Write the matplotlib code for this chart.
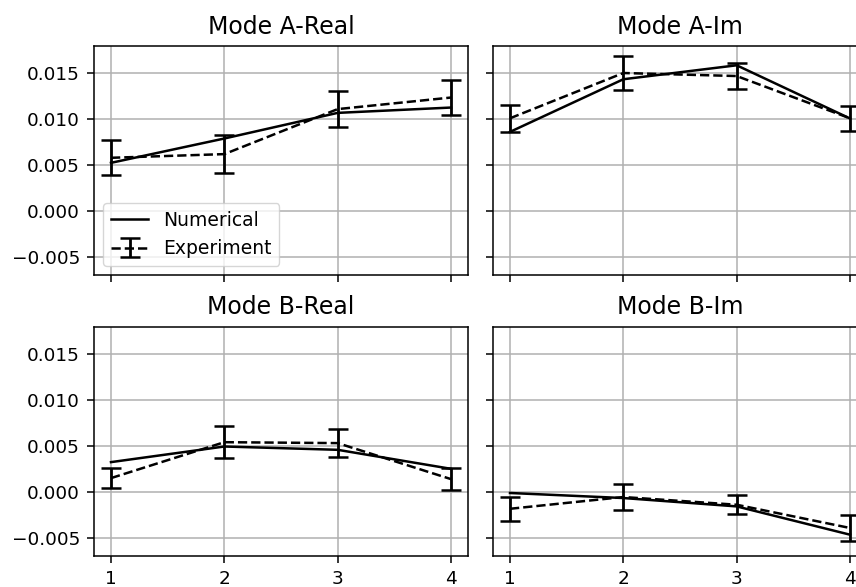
import matplotlib
matplotlib.use("Agg")
import matplotlib.pyplot as plt
import numpy as np

x = [1, 2, 3, 4]
titles = ["Mode A-Real", "Mode A-Im", "Mode B-Real", "Mode B-Im"]

# numerical results
num_a_real = [0.00525, 0.0079, 0.01069, 0.01127]
num_a_im = [0.00862, 0.01435, 0.01587, 0.01008]
num_b_real = [0.00326, 0.00496, 0.0046, 0.00253]
num_b_im = [-0.0001, -0.00065, -0.00156, -0.00464]

# experiment mean and error
exp_a_real = [0.0058, 0.0062, 0.0111, 0.01236]
err_a_real = [0.0019, 0.0021, 0.00195, 0.00195]
exp_a_im = [0.0101, 0.01503, 0.0147, 0.0101]
err_a_im = [0.00145, 0.0018, 0.00145, 0.00138]
exp_b_real = [0.00152, 0.00543, 0.00533, 0.00141]
err_b_real = [0.00105, 0.00174, 0.00155, 0.00123]
exp_b_im = [-0.00182, -0.00054, -0.00138, -0.00391]
err_b_im = [0.0013, 0.00145, 0.00105, 0.00145]

numerical = [num_a_real, num_a_im, num_b_real, num_b_im]
experiment = [exp_a_real, exp_a_im, exp_b_real, exp_b_im]
errors = [err_a_real, err_a_im, err_b_real, err_b_im]

plt.rcParams['axes.linewidth'] = 1.1

fig, axes = plt.subplots(2, 2, sharex=True, sharey=True, figsize=(8.56, 5.87), dpi=100)
axes = axes.flatten()

# axes positions (right column runs past the figure edge, as in the original crop)
W = 374 / 856
H = 229 / 587
positions = [
    (94 / 856, 1 - 275 / 587, W, H),
    (493 / 856, 1 - 275 / 587, W, H),
    (94 / 856, 1 - 556 / 587, W, H),
    (493 / 856, 1 - 556 / 587, W, H),
]

for i, ax in enumerate(axes):
    ax.set_position(positions[i])
    ax.plot(x, numerical[i], 'k-', lw=1.8, label="Numerical")
    ax.errorbar(x, experiment[i], yerr=errors[i], fmt='k--', lw=1.8,
                elinewidth=2.0, capsize=7, capthick=1.8, label="Experiment")
    ax.set_title(titles[i], fontsize=17, pad=9)
    ax.grid(True, color='#b0b0b0', lw=1.1)
    ax.set_axisbelow(True)
    ax.tick_params(labelsize=13.3, length=5, width=1.1, pad=5)

axes[0].set_xlim(0.85, 4.15)
axes[0].set_ylim(-0.00696, 0.01797)
axes[0].set_xticks(x)
axes[0].set_yticks([-0.005, 0.0, 0.005, 0.010, 0.015])
axes[0].legend(loc='lower left', fontsize=13.5)

fig.savefig("out.png", dpi=100)
